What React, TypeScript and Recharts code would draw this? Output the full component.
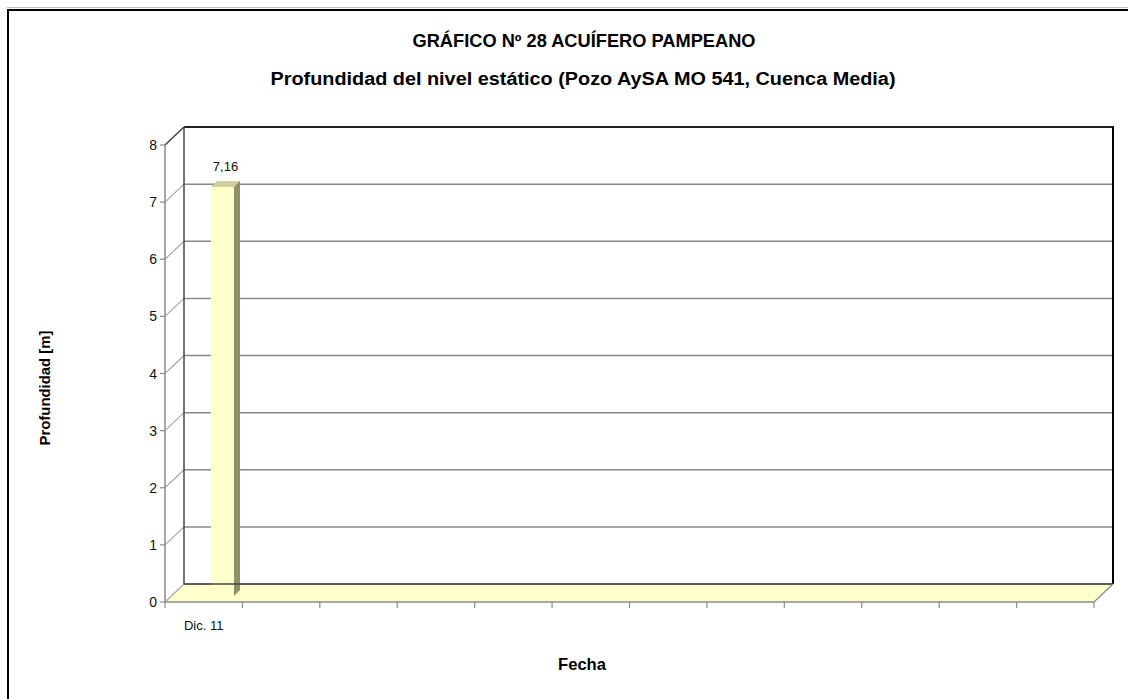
import React from "react";
import { BarChart, Bar, XAxis, YAxis, CartesianGrid, LabelList } from "recharts";

// data
const FECHAS = ["Dic. 11", "", "", "", "", "", "", "", "", "", "", ""];
const PROFUNDIDAD: (number | null)[] = [7.16, null, null, null, null, null, null, null, null, null, null, null];
const Y_TICKS = [0, 1, 2, 3, 4, 5, 6, 7, 8];

const TITLE_1 = "GRÁFICO Nº 28 ACUÍFERO PAMPEANO";
const TITLE_2 = "Profundidad del nivel estático (Pozo AySA MO 541, Cuenca Media)";

const data = FECHAS.map((f, i) => ({ slot: i, fecha: f, prof: PROFUNDIDAD[i] }));

// layout: plot area = back wall of the 3d box
const W = 1128;
const H = 699;
const LEFT = 184;
const TOP = 127;
const RIGHT = 1113;
const BOTTOM = 584;
const Y_AXIS_W = 60;
const X_AXIS_H = 40;
const DX = 19; // depth offset (back -> front)
const DY = 18;
const FRONT_X = LEFT - DX;
const FRONT_Y = BOTTOM + DY;
const BAND = (RIGHT - LEFT) / FECHAS.length;

const GRID = "#8a8a8a";
const FONT = "'Liberation Sans', Arial, sans-serif";

function YTick(props: any) {
  const { y, payload } = props;
  const fy = y + DY;
  return (
    <g>
      <line x1={FRONT_X} y1={fy} x2={LEFT} y2={y} stroke="#a8a8a8" strokeWidth={1.2} />
      <line x1={FRONT_X - 5} y1={fy} x2={FRONT_X} y2={fy} stroke={GRID} strokeWidth={1.2} />
      <text x={FRONT_X - 8} y={fy + 5} textAnchor="end" fontSize={14} fontFamily={FONT} fill="#111">
        {payload.value}
      </text>
    </g>
  );
}

function XTick(props: any) {
  const { x, payload, index } = props;
  const label = FECHAS[payload.value] ?? "";
  const bx = x - BAND / 2 - DX;
  return (
    <g>
      <line x1={bx} y1={FRONT_Y} x2={bx} y2={FRONT_Y + 6} stroke={GRID} strokeWidth={1.2} />
      {index === FECHAS.length - 1 && (
        <line x1={bx + BAND} y1={FRONT_Y} x2={bx + BAND} y2={FRONT_Y + 6} stroke={GRID} strokeWidth={1.2} />
      )}
      {label && (
        <text x={x - DX} y={FRONT_Y + 28} textAnchor="middle" fontSize={13} fontFamily={FONT} fill="#111">
          {label}
        </text>
      )}
    </g>
  );
}

function Bar3D(props: any) {
  const { x, y, width, height } = props;
  if (!height || height <= 0) return null;
  const f = 12; // front face drop
  const d = 6; // bar depth
  const top = y + f;
  const bot = y + height + f;
  return (
    <g>
      <polygon
        points={`${x},${top} ${x + width},${top} ${x + width + d},${top - d} ${x + d},${top - d}`}
        fill="#cfcf9f"
      />
      <polygon
        points={`${x + width},${top} ${x + width + d},${top - d} ${x + width + d},${bot - d} ${x + width},${bot}`}
        fill="#8f8f68"
      />
      <rect x={x} y={top} width={width} height={bot - top} fill="#ffffcc" />
    </g>
  );
}

function ValueLabel(props: any) {
  const { x, y, width, value } = props;
  if (value == null) return null;
  return (
    <text x={x + width / 2 + 3} y={y - 4} textAnchor="middle" fontSize={13} fontFamily={FONT} fill="#111">
      {String(value).replace(".", ",")}
    </text>
  );
}

function Background() {
  return (
    <svg width={W} height={H} style={{ position: "absolute", left: 0, top: 0 }}>
      <rect x={0} y={0} width={W} height={H} fill="#fff" />
      {/* outer frame, cut off at right/bottom */}
      <line x1={7} y1={7.5} x2={W} y2={7.5} stroke="#c0c0c0" strokeWidth={1} />
      <line x1={7} y1={10} x2={W} y2={10} stroke="#000" strokeWidth={2} />
      <line x1={8} y1={9} x2={8} y2={H} stroke="#000" strokeWidth={2} />

      <text x={584} y={47} textAnchor="middle" fontSize={18} fontWeight="bold" fontFamily={FONT}
        textLength={343} lengthAdjust="spacingAndGlyphs">{TITLE_1}</text>
      <text x={583} y={85} textAnchor="middle" fontSize={18} fontWeight="bold" fontFamily={FONT}
        textLength={625} lengthAdjust="spacingAndGlyphs">{TITLE_2}</text>

      <text x={50} y={388} transform="rotate(-90 50 388)" textAnchor="middle" fontSize={14} fontWeight="bold"
        fontFamily={FONT} textLength={115} lengthAdjust="spacingAndGlyphs">Profundidad [m]</text>
      <text x={582} y={670} textAnchor="middle" fontSize={17} fontWeight="bold" fontFamily={FONT}
        textLength={48} lengthAdjust="spacingAndGlyphs">Fecha</text>

      {/* floor */}
      <polygon
        points={`${LEFT},${BOTTOM} ${RIGHT},${BOTTOM} ${RIGHT - DX},${FRONT_Y} ${FRONT_X},${FRONT_Y}`}
        fill="#ffffcc"
      />
    </svg>
  );
}

function Foreground() {
  return (
    <svg width={W} height={H} style={{ position: "absolute", left: 0, top: 0, pointerEvents: "none" }}>
      {/* back wall edges */}
      <line x1={LEFT} y1={TOP} x2={RIGHT + 1} y2={TOP} stroke="#222" strokeWidth={2} />
      <line x1={RIGHT} y1={TOP} x2={RIGHT} y2={BOTTOM} stroke="#000" strokeWidth={2} />
      <line x1={LEFT} y1={TOP} x2={LEFT} y2={BOTTOM} stroke="#444" strokeWidth={1.5} />
      <line x1={LEFT} y1={BOTTOM} x2={RIGHT} y2={BOTTOM} stroke="#444" strokeWidth={1.5} />
      {/* left wall / front axes */}
      <line x1={FRONT_X} y1={TOP + DY} x2={LEFT} y2={TOP} stroke="#444" strokeWidth={1.2} />
      <line x1={FRONT_X} y1={TOP + DY} x2={FRONT_X} y2={FRONT_Y} stroke={GRID} strokeWidth={1.5} />
      <line x1={FRONT_X} y1={FRONT_Y} x2={RIGHT - DX} y2={FRONT_Y} stroke={GRID} strokeWidth={1.5} />
      <line x1={RIGHT - DX} y1={FRONT_Y} x2={RIGHT} y2={BOTTOM} stroke={GRID} strokeWidth={1.2} />
    </svg>
  );
}

export default function App() {
  return (
    <div style={{ position: "absolute", left: 0, top: 0, width: W, height: H, overflow: "hidden" }}>
      <Background />
      <div style={{ position: "absolute", left: 0, top: 0 }}>
        <BarChart
          width={W}
          height={H}
          data={data}
          margin={{ left: LEFT - Y_AXIS_W, top: TOP, right: W - RIGHT, bottom: H - BOTTOM - X_AXIS_H }}
          barCategoryGap={0}
        >
          <CartesianGrid vertical={false} stroke={GRID} strokeWidth={1.5} />
          <XAxis
            dataKey="slot"
            type="category"
            interval={0}
            axisLine={false}
            tickLine={false}
            tick={<XTick />}
            height={X_AXIS_H}
          />
          <YAxis
            domain={[0, 8]}
            ticks={Y_TICKS}
            axisLine={false}
            tickLine={false}
            tick={<YTick />}
            width={Y_AXIS_W}
          />
          <Bar dataKey="prof" barSize={23} shape={<Bar3D />} isAnimationActive={false}>
            <LabelList dataKey="prof" content={<ValueLabel />} />
          </Bar>
        </BarChart>
      </div>
      <Foreground />
    </div>
  );
}
